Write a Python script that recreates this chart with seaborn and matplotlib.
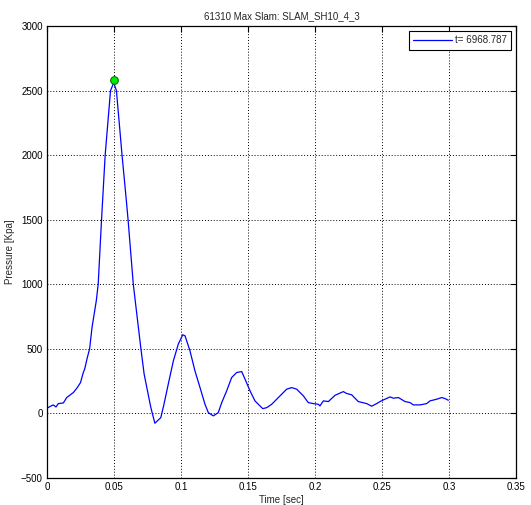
import numpy as np
import pandas as pd
import matplotlib
matplotlib.use("Agg")
import matplotlib.pyplot as plt
import seaborn as sns

# ---- data ----
time_s = [0.0, 0.0025, 0.0047, 0.0067, 0.0084, 0.0122, 0.0147, 0.0197, 0.0226, 0.025,
          0.0271, 0.0281, 0.0301, 0.0318, 0.0336, 0.0368, 0.0382, 0.0407, 0.0434, 0.0466,
          0.0474, 0.0498, 0.0518, 0.056, 0.0592, 0.0605, 0.0644, 0.0676, 0.0701, 0.0725,
          0.0755, 0.0775, 0.0805, 0.0849, 0.0873, 0.0905,
          0.0943, 0.098, 0.1013, 0.103, 0.1067, 0.1104, 0.1142, 0.1179, 0.1204, 0.1241,
          0.1278, 0.1304, 0.1341, 0.1378, 0.1416, 0.1453, 0.1478, 0.1515, 0.1552, 0.161,
          0.164, 0.1677, 0.1739, 0.1789, 0.1826, 0.1863, 0.1913, 0.195, 0.1988, 0.2025,
          0.2037, 0.2062, 0.21, 0.2149, 0.2211, 0.2237, 0.2274, 0.2323, 0.2386, 0.2423,
          0.246, 0.2485, 0.2522, 0.256, 0.2584, 0.2622, 0.2672, 0.2709, 0.2734, 0.2784,
          0.2833, 0.2858, 0.2908, 0.2946, 0.297, 0.2995]
pressure = [40, 55, 66, 50, 76, 81, 123, 162, 200, 239,
            317, 343, 433, 500, 666, 873, 1000, 1500, 2000, 2399,
            2500, 2560, 2500, 2000, 1649, 1500, 1000, 718, 500, 304,
            149, 45, -76, -33, 71, 227,
            407, 537, 609, 601, 485, 330, 200, 71, 6, -19,
            6, 84, 175, 278, 317, 324, 265, 175, 97, 37,
            45, 71, 136, 188, 200, 188, 136, 84, 76, 71,
            58, 97, 92, 140, 169, 154, 144, 92, 76, 56,
            76, 92, 110, 128, 118, 123, 92, 84, 66, 66,
            76, 97, 110, 123, 115, 102]
peak_time = [0.0502]
peak_pressure = [2582]
x_ticks = [0, 0.05, 0.1, 0.15, 0.2, 0.25, 0.3, 0.35]
x_tick_labels = ["0", "0.05", "0.1", "0.15", "0.2", "0.25", "0.3", "0.35"]
y_ticks = [-500, 0, 500, 1000, 1500, 2000, 2500, 3000]
legend_label = "t= 6968.787"
title = "61310 Max Slam: SLAM_SH10_4_3"

df = pd.DataFrame({"Time": time_s, "Pressure": pressure})

sns.set_style("white")
plt.rcParams["font.family"] = ["Liberation Sans", "DejaVu Sans"]
plt.rcParams["font.size"] = 7

fig = plt.figure(figsize=(5.31, 5.05), dpi=100)
ax = fig.add_axes([47 / 531, 27 / 505, (516 - 47) / 531, (478 - 26) / 505])

sns.lineplot(data=df, x="Time", y="Pressure", ax=ax, color="#0000ff", linewidth=0.9,
             label=legend_label, estimator=None, sort=False)
ax.plot(peak_time, peak_pressure, "o", color="#00ee00", markeredgecolor="#007700",
        markersize=5.5, markeredgewidth=0.8)

ax.set_xlim(0, 0.35)
ax.set_ylim(-500, 3000)
ax.set_xticks(x_ticks)
ax.set_xticklabels(x_tick_labels)
ax.set_yticks(y_ticks)
ax.grid(True, color="black", linestyle=(0, (1, 2)), linewidth=0.7)
ax.tick_params(direction="in", length=4, width=0.8, top=True, right=True,
               labelsize=7, pad=3, colors="black")
for s in ax.spines.values():
    s.set_color("black")
    s.set_linewidth(0.9)
ax.set_xlabel("Time [sec]", fontsize=7, labelpad=2)
ax.set_ylabel("Pressure [Kpa]", fontsize=7, labelpad=4)
ax.set_title(title, fontsize=7, pad=5)

leg = ax.legend(loc="upper right", fontsize=7, frameon=True, fancybox=False,
                edgecolor="black", framealpha=1, handlelength=4.0, borderpad=0.45,
                borderaxespad=0.5, handletextpad=0.3)
leg.get_frame().set_linewidth(0.8)

fig.savefig("out.png", dpi=100)
